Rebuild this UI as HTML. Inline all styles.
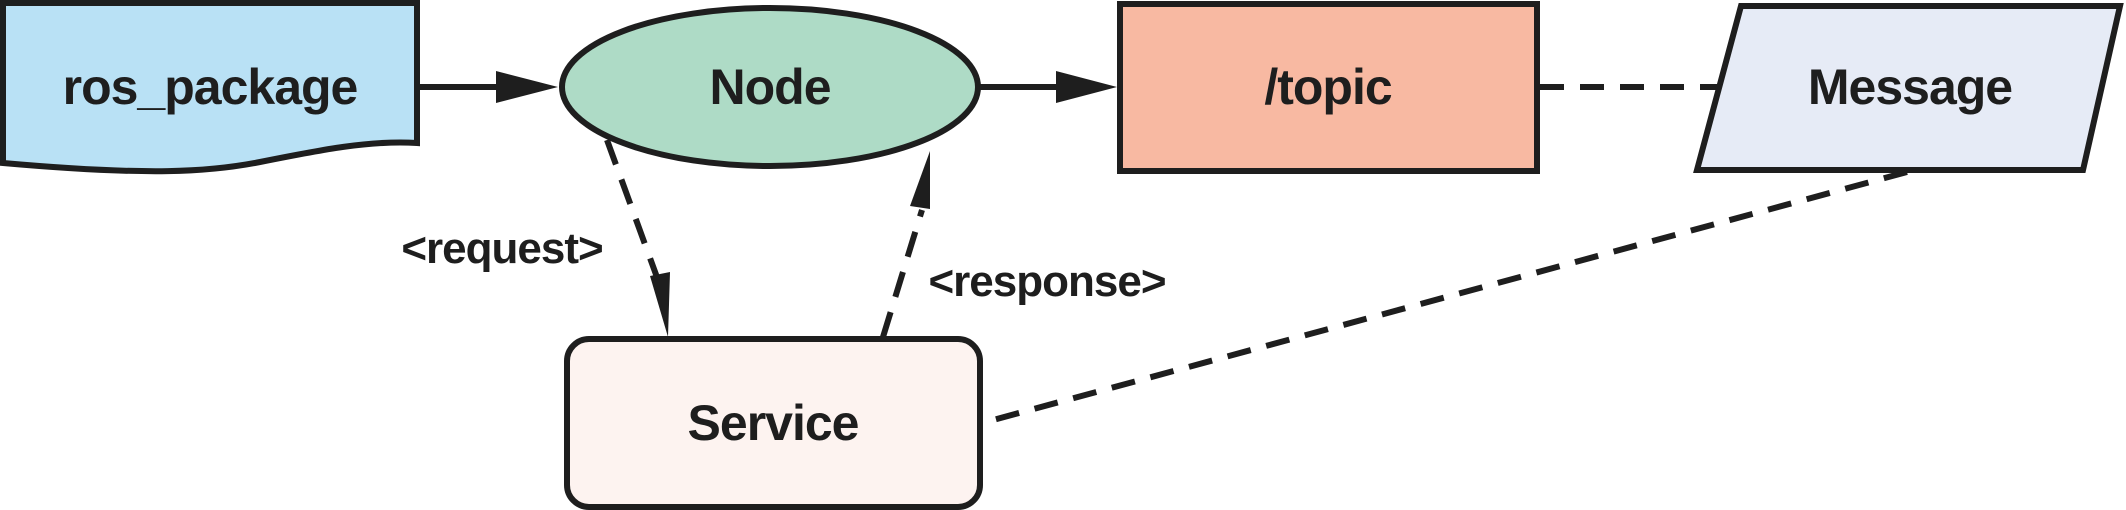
<!DOCTYPE html>
<html><head><meta charset="utf-8"><style>
html,body{margin:0;padding:0;background:#fff;}
svg{display:block;}
text{font-family:"Liberation Sans",sans-serif;font-weight:bold;fill:#1e1e1e;}
</style></head><body>
<svg width="2126" height="510" viewBox="0 0 2126 510" xmlns="http://www.w3.org/2000/svg">
<!-- ros_package -->
<path d="M3,3 L417,3 L417,143 C370,140 320,150 260,162 C210,172 150,176 3,163 Z" fill="#b9e1f5" stroke="#1e1e1e" stroke-width="6"/>
<text x="210" y="104" font-size="50" text-anchor="middle" letter-spacing="-1">ros_package</text>
<!-- arrow ros->node -->
<line x1="420" y1="87" x2="500" y2="87" stroke="#1e1e1e" stroke-width="6"/>
<path d="M496,71 L558,87 L496,103 Z" fill="#1e1e1e"/>
<!-- Node -->
<ellipse cx="770" cy="87" rx="208" ry="79" fill="#aedbc6" stroke="#1e1e1e" stroke-width="6"/>
<text x="770" y="104" font-size="50" text-anchor="middle" letter-spacing="-1">Node</text>
<!-- arrow node->topic -->
<line x1="980" y1="87" x2="1060" y2="87" stroke="#1e1e1e" stroke-width="6"/>
<path d="M1056,71 L1117,87 L1056,103 Z" fill="#1e1e1e"/>
<!-- topic -->
<rect x="1120" y="4" width="417" height="167" fill="#f8b9a2" stroke="#1e1e1e" stroke-width="6"/>
<text x="1328" y="104" font-size="50" text-anchor="middle" letter-spacing="-1">/topic</text>
<!-- topic-message dashed -->
<line x1="1540" y1="87" x2="1722" y2="87" stroke="#1e1e1e" stroke-width="6" stroke-dasharray="24,16"/>
<!-- Message -->
<path d="M1741,6 L2120,6 L2083,170 L1697,170 Z" fill="#e6ebf6" stroke="#1e1e1e" stroke-width="6"/>
<text x="1910" y="104" font-size="50" text-anchor="middle" letter-spacing="-1">Message</text>
<!-- message-service dashed -->
<line x1="1907" y1="172" x2="982" y2="423" stroke="#1e1e1e" stroke-width="6" stroke-dasharray="24,16"/>
<!-- request -->
<line x1="607" y1="140" x2="658" y2="280" stroke="#1e1e1e" stroke-width="6" stroke-dasharray="26,16"/>
<path d="M650,276 L670,272 L668,337 Z" fill="#1e1e1e"/>
<!-- response -->
<line x1="883" y1="337" x2="922" y2="210" stroke="#1e1e1e" stroke-width="6" stroke-dasharray="26,16"/>
<path d="M910,206 L930,151 L930,209 Z" fill="#1e1e1e"/>
<text x="502" y="263" font-size="44" text-anchor="middle" letter-spacing="-1">&lt;request&gt;</text>
<text x="1047" y="296" font-size="44" text-anchor="middle" letter-spacing="-1">&lt;response&gt;</text>
<!-- Service -->
<rect x="567" y="339" width="413" height="168" rx="22" fill="#fdf3f0" stroke="#1e1e1e" stroke-width="6"/>
<text x="773" y="440" font-size="50" text-anchor="middle" letter-spacing="-1">Service</text>
</svg>
</body></html>
